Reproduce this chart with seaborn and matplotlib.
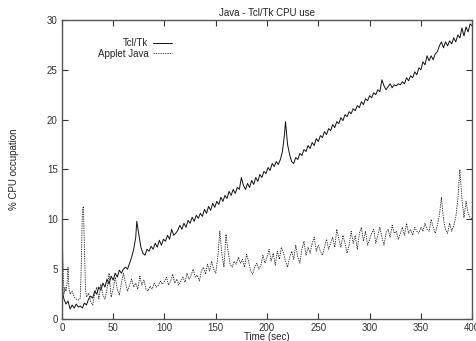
import numpy as np
import pandas as pd
import seaborn as sns
from matplotlib import pyplot as plt

# Tcl/Tk CPU use (solid line)
tcl_time = [0, 2, 4, 6, 8, 10, 12, 14, 16, 18, 20, 22, 24, 26, 28, 30, 32, 34, 36, 38,
            40, 42, 44, 46, 48, 50, 52, 54, 56, 58, 60, 62, 64, 66, 68, 70, 72, 73, 75, 77,
            79, 81, 83, 85, 87, 89, 91, 93, 95, 97, 99, 101, 103, 105, 107, 109, 111, 113, 115, 117,
            119, 121, 123, 125, 127, 129, 131, 133, 135, 137, 139, 141, 143, 145, 147, 149, 151, 153, 155, 157,
            159, 161, 163, 165, 167, 169, 171, 173, 175, 177, 179, 181, 183, 185, 187, 189, 191, 193, 195, 197,
            199, 201, 203, 205, 207, 209, 211, 213, 215, 217, 218, 220, 222, 224, 226, 228, 230, 232, 234, 236,
            238, 240, 242, 244, 246, 248, 250, 252, 254, 256, 258, 260, 262, 264, 266, 268, 270, 272, 274, 276,
            278, 280, 282, 284, 286, 288, 290, 292, 294, 296, 298, 300, 302, 304, 306, 308, 310, 312, 314, 316,
            318, 320, 322, 324, 326, 328, 330, 332, 334, 336, 338, 340, 342, 344, 346, 348, 350, 352, 354, 356,
            358, 360, 362, 364, 366, 368, 370, 372, 374, 376, 378, 380, 382, 384, 386, 388, 390, 392, 394, 396,
            398, 400]
tcl_cpu = [3.0, 2.0, 1.5, 1.8, 1.0, 1.4, 1.1, 1.5, 1.2, 1.3, 1.1, 1.6, 1.4, 2.0, 2.3, 2.1, 2.8, 2.5, 3.2, 2.9,
           3.6, 3.2, 4.0, 3.5, 4.3, 3.9, 4.6, 4.2, 4.9, 4.6, 5.0, 5.2, 5.0, 5.6, 6.2, 7.0, 8.2, 9.8, 8.5, 7.2,
           6.6, 6.4, 7.0, 6.8, 7.3, 7.0, 7.6, 7.2, 7.9, 7.4, 8.0, 7.8, 8.4, 8.0, 9.0, 8.4, 8.6, 8.9, 9.4, 9.0,
           9.6, 9.2, 9.9, 9.6, 10.2, 9.8, 10.4, 10.1, 10.6, 10.3, 11.0, 10.6, 11.3, 10.9, 11.6, 11.2, 11.8, 11.5, 12.2, 11.8,
           12.4, 12.1, 12.8, 12.4, 13.0, 12.6, 13.2, 13.0, 14.2, 13.4, 13.0, 13.6, 13.2, 13.9, 13.5, 14.2, 13.8, 14.5, 14.2, 14.8,
           14.6, 15.2, 14.9, 15.6, 15.3, 15.8, 15.5, 16.0, 16.8, 18.5, 19.8, 17.5, 16.5, 15.8, 15.6, 16.2, 16.0, 16.6, 16.4, 17.0,
           16.8, 17.4, 17.1, 17.7, 17.4, 18.1, 17.8, 18.4, 18.2, 18.8, 18.5, 19.1, 18.9, 19.5, 19.2, 19.8, 19.6, 20.2, 19.9, 20.5,
           20.3, 20.8, 20.6, 21.1, 20.9, 21.4, 21.2, 21.8, 21.5, 22.1, 21.9, 22.4, 22.2, 22.7, 22.5, 23.0, 22.8, 24.0, 23.4, 23.0,
           23.3, 23.6, 23.2, 23.5, 23.4, 23.6, 23.5, 23.8, 23.6, 24.2, 23.9, 24.4, 24.2, 24.8, 24.5, 25.2, 25.0, 25.8, 25.5, 26.4,
           25.9, 26.4, 26.0, 26.6, 26.8, 27.4, 27.8, 27.2, 27.8, 27.4, 27.9, 27.6, 28.2, 27.8, 28.5, 28.2, 29.2, 28.4, 29.3, 28.8,
           29.6, 29.4]

# Applet Java CPU use (dashed line)
java_time = [0, 1, 2, 3, 4, 5, 6, 7, 8, 10, 12, 14, 16, 18, 19, 20, 21, 22, 23, 24,
             26, 28, 30, 32, 34, 36, 38, 40, 42, 44, 46, 48, 50, 52, 54, 56, 58, 60, 62, 64,
             66, 68, 70, 72, 74, 76, 78, 80, 82, 84, 86, 88, 90, 92, 94, 96, 98, 100, 102, 104,
             106, 108, 110, 112, 114, 116, 118, 120, 122, 124, 126, 128, 130, 132, 134, 136, 138, 140, 142, 144,
             146, 148, 150, 152, 154, 156, 158, 160, 162, 164, 166, 168, 170, 172, 174, 176, 178, 180, 182, 184,
             186, 188, 190, 192, 194, 196, 198, 200, 202, 204, 206, 208, 210, 212, 214, 216, 218, 220, 222, 224,
             226, 228, 230, 232, 234, 236, 238, 240, 242, 244, 246, 248, 250, 252, 254, 256, 258, 260, 262, 264,
             266, 268, 270, 272, 274, 276, 278, 280, 282, 284, 286, 288, 290, 292, 294, 296, 298, 300, 302, 304,
             306, 308, 310, 312, 314, 316, 318, 320, 322, 324, 326, 328, 330, 332, 334, 336, 338, 340, 342, 344,
             346, 348, 350, 352, 354, 356, 358, 360, 362, 364, 366, 368, 370, 372, 374, 376, 378, 380, 382, 384,
             386, 388, 390, 392, 394, 396, 398, 400]
java_cpu = [10.0, 6.0, 2.5, 3.2, 2.8, 3.5, 5.2, 3.0, 2.5, 2.8, 2.2, 2.0, 1.9, 2.1, 6.0, 11.0, 11.3, 7.0, 3.0, 2.2,
            2.6, 1.8, 1.4, 2.5, 3.2, 2.0, 3.5, 2.4, 2.0, 3.0, 4.6, 2.2, 3.0, 4.2, 3.0, 2.4, 3.6, 4.6, 3.6, 2.8,
            3.4, 4.0, 3.2, 3.6, 3.0, 4.3, 3.4, 3.9, 3.0, 2.8, 3.3, 3.0, 3.6, 3.2, 3.4, 3.8, 3.5, 3.8, 4.2, 3.4,
            3.8, 4.5, 3.6, 4.0, 3.4, 3.8, 4.2, 3.7, 4.6, 4.0, 4.4, 5.0, 4.2, 4.4, 3.8, 4.8, 5.2, 4.5, 5.5, 4.8,
            5.8, 5.0, 4.6, 6.2, 8.8, 6.5, 5.2, 8.5, 6.8, 5.5, 5.2, 5.8, 5.5, 6.2, 5.6, 6.0, 5.2, 6.5, 5.8, 4.8,
            4.5, 5.2, 5.6, 5.0, 5.4, 6.4, 5.6, 6.2, 7.0, 5.8, 6.6, 5.4, 6.8, 6.0, 7.2, 6.6, 5.8, 5.2, 6.2, 6.8,
            6.0, 7.4, 6.2, 5.6, 7.0, 7.8, 6.4, 7.2, 6.6, 7.6, 8.2, 6.8, 7.4, 6.8, 6.4, 7.2, 8.0, 7.0, 7.6, 8.2,
            7.2, 9.0, 8.0, 7.2, 8.4, 7.6, 6.6, 7.4, 8.8, 7.6, 8.4, 7.0, 8.6, 9.2, 7.8, 8.8, 7.4, 8.0, 8.6, 9.0,
            7.6, 8.4, 9.2, 8.2, 7.4, 8.6, 9.0, 8.2, 9.4, 8.6, 8.8, 8.0, 8.6, 9.2, 8.4, 9.6, 8.6, 9.0, 8.4, 9.2,
            8.8, 8.6, 9.2, 8.8, 9.6, 9.0, 8.8, 10.0, 9.2, 8.6, 9.4, 10.4, 12.2, 10.0, 9.0, 8.6, 9.6, 8.8, 9.4, 10.2,
            12.0, 15.0, 12.0, 10.2, 11.8, 10.6, 10.2, 10.0]

tcl = pd.DataFrame({'time': tcl_time, 'cpu': tcl_cpu})
java = pd.DataFrame({'time': java_time, 'cpu': java_cpu})

sns.set_style('ticks')
plt.rcParams['font.family'] = ['Liberation Sans', 'DejaVu Sans']

FS = 7

fig = plt.figure(figsize=(4.76, 3.41), dpi=100)
ax = fig.add_axes([0.130, 0.0645, 0.862, 0.877])

sns.lineplot(data=tcl, x='time', y='cpu', ax=ax, color='#111111', linewidth=0.7, label='Tcl/Tk')
sns.lineplot(data=java, x='time', y='cpu', ax=ax, color='#222222', linewidth=0.6,
             linestyle=(0, (1.6, 1.2)), label='Applet Java')

ax.set_xlim(0, 400)
ax.set_ylim(0, 30)
ax.set_xticks(np.arange(0, 401, 50))
ax.set_yticks(np.arange(0, 31, 5))
ax.tick_params(direction='in', length=4, width=0.8, top=True, right=True, pad=3,
               labelsize=FS, colors='#333333')
for s in ax.spines.values():
    s.set_color('#555555')
    s.set_linewidth(1.0)

ax.set_title('Java - Tcl/Tk CPU use', fontsize=FS, pad=3, color='#222222')
ax.set_xlabel('Time (sec)', fontsize=FS, labelpad=-1, color='#222222')
ax.set_ylabel('% CPU occupation', fontsize=FS, labelpad=20, color='#222222')

ax.legend(loc='upper left', bbox_to_anchor=(0.075, 0.955), frameon=False, markerfirst=False,
          handlelength=1.9, handletextpad=0.5, labelspacing=0.05, borderpad=0, fontsize=FS)

plt.savefig('out.png', dpi=100)
